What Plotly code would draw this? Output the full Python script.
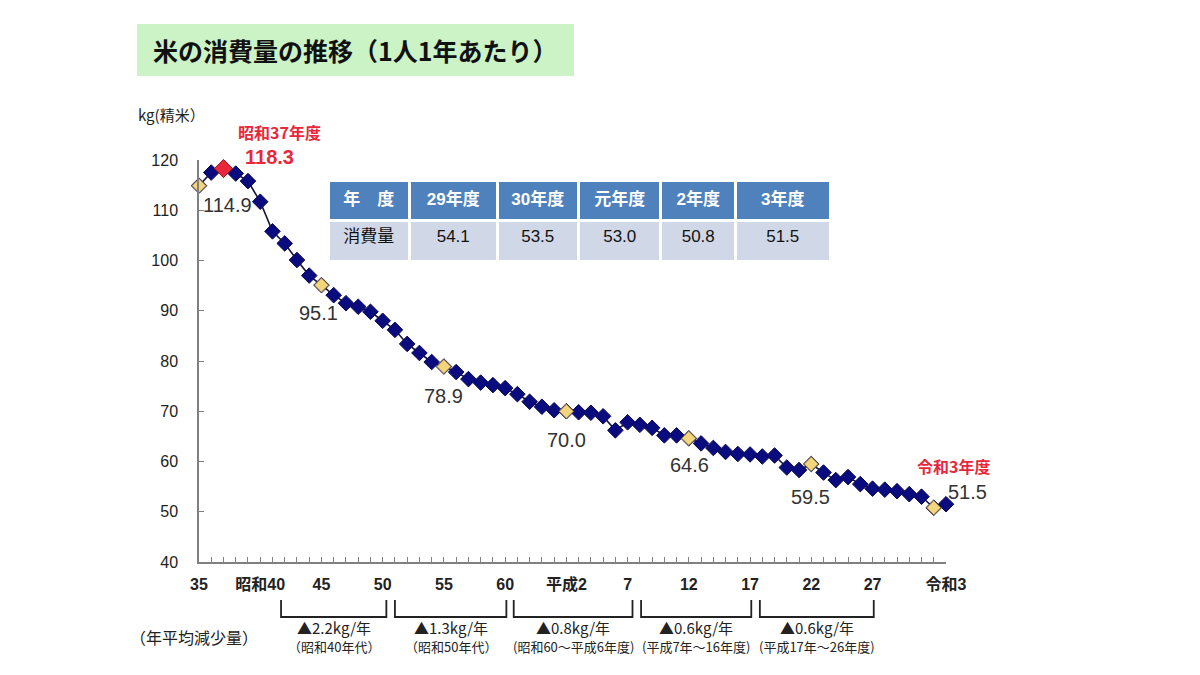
import plotly.graph_objects as go

# fiscal years Showa 35 (1960) .. Reiwa 3 (2021)
years = list(range(1960, 2022))
consumption = [
    114.9, 117.5, 118.3, 117.3, 115.8, 111.7, 105.8, 103.4, 100.1, 97.0,
    95.1, 93.1, 91.5, 90.8, 89.8, 88.0, 86.2, 83.4, 81.6, 79.8,
    78.9, 77.8, 76.4, 75.7, 75.2, 74.6, 73.4, 71.9, 70.9, 70.2,
    70.0, 69.8, 69.7, 69.0, 66.2, 67.8, 67.3, 66.7, 65.2, 65.2,
    64.6, 63.6, 62.7, 61.9, 61.5, 61.4, 61.0, 61.2, 58.8, 58.3,
    59.5, 57.8, 56.3, 56.9, 55.5, 54.6, 54.4, 54.1, 53.5, 53.0,
    50.8, 51.5,
]

tick_years = [1960, 1965, 1970, 1975, 1980, 1985, 1990, 1995, 2000, 2005, 2010, 2015, 2021]
tick_labels = ["35", "昭和40", "45", "50", "55", "60", "平成2", "7", "12", "17", "22", "27", "令和3"]

highlight_years = [1960, 1970, 1980, 1990, 2000, 2010, 2020]
peak_year = 1962

table_header = ["年　度", "29年度", "30年度", "元年度", "2年度", "3年度"]
table_years = [2017, 2018, 2019, 2020, 2021]

# average yearly decrease per period
decrease_spans = [(1966.7, 1975.3), (1976.0, 1985.1), (1985.7, 1995.4), (1996.1, 2005.1), (2005.8, 2015.1)]
decrease_rates = ["▲2.2kg/年", "▲1.3kg/年", "▲0.8kg/年", "▲0.6kg/年", "▲0.6kg/年"]
decrease_periods = ["（昭和40年代）", "（昭和50年代）", "(昭和60～平成6年度)", "(平成7年～16年度)", "(平成17年～26年度)"]

val = dict(zip(years, consumption))
FONT = "Liberation Sans, Arial, Noto Sans CJK JP, sans-serif"
JP = "Noto Sans CJK JP, sans-serif"

fig = go.Figure()

fig.add_trace(go.Scatter(
    x=years, y=consumption, mode="lines+markers",
    line=dict(color="#14143c", width=1.6),
    marker=dict(symbol="diamond", size=12, color="#0b0b80", line=dict(color="#0b0b50", width=1)),
    cliponaxis=False, showlegend=False,
))
fig.add_trace(go.Scatter(
    x=highlight_years, y=[val[y] for y in highlight_years], mode="markers",
    marker=dict(symbol="diamond", size=11, color="#f3d57e", line=dict(color="#8a7440", width=1)),
    cliponaxis=False, showlegend=False,
))
fig.add_trace(go.Scatter(
    x=[peak_year], y=[val[peak_year]], mode="markers",
    marker=dict(symbol="diamond", size=14, color="#e8283a", line=dict(color="#a01020", width=1)),
    cliponaxis=False, showlegend=False,
))

fig.add_trace(go.Table(
    domain=dict(x=[0.1727, 0.846], y=[0.72, 0.948]),
    columnwidth=[81, 87, 81, 82, 74, 94],
    header=dict(
        values=["<b>%s</b>" % h for h in table_header],
        fill_color="#4f81bd", line=dict(color="white", width=3),
        font=dict(color="white", size=17, family=FONT), height=40, align="center",
    ),
    cells=dict(
        values=[["消費量"]] + [["%.1f" % val[y]] for y in table_years],
        fill_color="#d0d8e8", line=dict(color="white", width=3),
        font=dict(color="#111111", size=17, family=FONT), height=41, align="center",
    ),
))

label_style = dict(showarrow=False, yanchor="middle", font=dict(size=20, color="#333333", family=FONT))
annotations = []
for yr, dx, dy in [(1960, 28, -19), (1970, -3, -28), (1980, 0, -29), (1990, 0, -29),
                   (2000, 1, -27), (2010, -1, -33), (2021, 21, 12)]:
    annotations.append(dict(x=yr, y=val[yr], text="%.1f" % val[yr], xshift=dx, yshift=dy, **label_style))

annotations += [
    dict(x=peak_year, y=val[peak_year], text="<b>%.1f</b>" % val[peak_year], xshift=46, yshift=12,
         showarrow=False, yanchor="middle", font=dict(size=20, color="#e8283a", family=FONT)),
    dict(x=peak_year, y=val[peak_year], text="<b>昭和37年度</b>", xshift=56, yshift=37,
         showarrow=False, yanchor="middle", font=dict(size=16, color="#e8283a", family=JP)),
    dict(x=2021, y=val[2021], text="<b>令和3年度</b>", xshift=7, yshift=38,
         showarrow=False, yanchor="middle", font=dict(size=16, color="#e8283a", family=JP)),
    dict(xref="paper", yref="paper", x=-0.0643, y=1.2736, xanchor="left", yanchor="middle",
         text="<b>米の消費量の推移（1人1年あたり）</b>",
         showarrow=False, font=dict(size=25, color="#111111", family=JP)),
    dict(xref="paper", yref="paper", x=-0.085, y=1.112, xanchor="left", yanchor="middle", text="kg(精米）",
         showarrow=False, font=dict(size=15, color="#222222", family=JP)),
    dict(xref="paper", yref="paper", x=-0.095, y=-0.1866, xanchor="left", yanchor="middle", text="（年平均減少量）",
         showarrow=False, font=dict(size=16, color="#222222", family=JP)),
]

shapes = [dict(type="rect", xref="paper", yref="paper", x0=-0.083, x1=0.502, y0=1.209, y1=1.338,
               fillcolor="#ccf3c6", line=dict(width=0), layer="below")]

for (a, b), rate, period in zip(decrease_spans, decrease_rates, decrease_periods):
    shapes.append(dict(type="path", xref="x", yref="paper",
                       path="M %s,-0.0945 L %s,-0.1368 L %s,-0.1368 L %s,-0.0945" % (a, a, b, b),
                       line=dict(color="#222222", width=1.8)))
    mid = (a + b) / 2
    annotations.append(dict(x=mid, xref="x", yref="paper", y=-0.164, yanchor="middle", text=rate,
                            showarrow=False, font=dict(size=15, color="#222222", family=JP)))
    annotations.append(dict(x=mid, xref="x", yref="paper", y=-0.211, yanchor="middle", text=period,
                            showarrow=False, font=dict(size=13, color="#222222", family=JP)))

# page body adds an 8px offset, so margins are shifted to compensate
fig.update_layout(
    width=1200, height=675, autosize=False,
    margin=dict(l=191, r=262, t=152, b=121),
    paper_bgcolor="white", plot_bgcolor="white",
    shapes=shapes, annotations=annotations,
    xaxis=dict(
        range=[1960, 2021], tickmode="array", tickvals=tick_years,
        ticktext=["<b>%s</b>" % t for t in tick_labels],
        tickfont=dict(size=16, color="#222222", family=FONT),
        showline=True, linecolor="#808080", linewidth=1.5, showgrid=False, zeroline=False,
        ticks="inside", ticklen=5, tickcolor="#808080", ticklabelstandoff=7,
        minor=dict(dtick=1, tick0=1960, ticks="inside", ticklen=5, tickcolor="#808080", showgrid=False),
    ),
    yaxis=dict(
        range=[40, 120], dtick=10, showline=True, linecolor="#808080", linewidth=1.5,
        showgrid=False, zeroline=False, ticks="inside", ticklen=5, tickcolor="#808080",
        tickfont=dict(size=16, color="#222222", family=FONT), ticklabelstandoff=16,
    ),
)

fig.write_html("out.html")
